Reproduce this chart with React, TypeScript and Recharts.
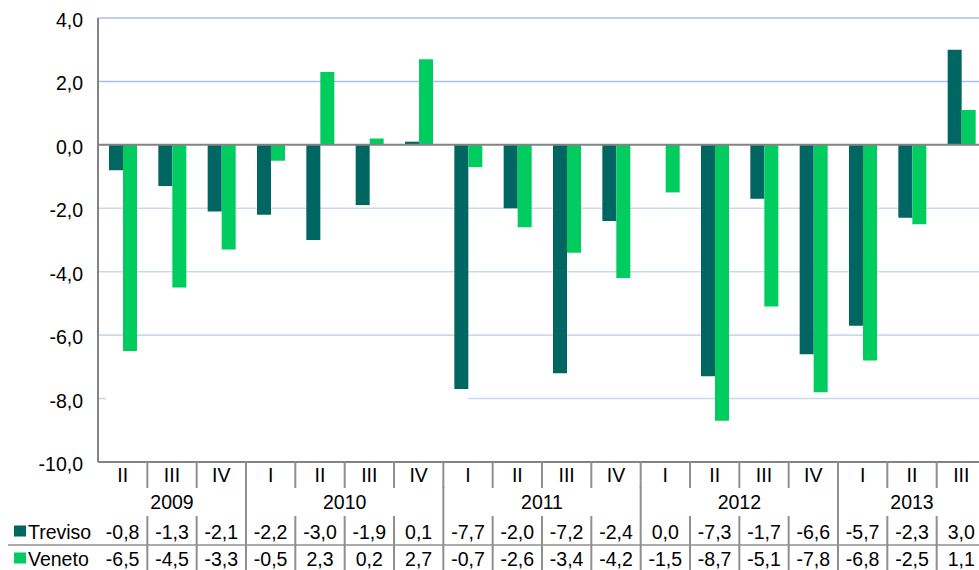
import React from 'react';
import { BarChart, Bar, XAxis, YAxis, CartesianGrid, ReferenceLine } from 'recharts';

const quarters = ['II', 'III', 'IV', 'I', 'II', 'III', 'IV', 'I', 'II', 'III', 'IV', 'I', 'II', 'III', 'IV', 'I', 'II', 'III'];
const years = [2009, 2009, 2009, 2010, 2010, 2010, 2010, 2011, 2011, 2011, 2011, 2012, 2012, 2012, 2012, 2013, 2013, 2013];
const treviso = [-0.8, -1.3, -2.1, -2.2, -3.0, -1.9, 0.1, -7.7, -2.0, -7.2, -2.4, 0.0, -7.3, -1.7, -6.6, -5.7, -2.3, 3.0];
const veneto = [-6.5, -4.5, -3.3, -0.5, 2.3, 0.2, 2.7, -0.7, -2.6, -3.4, -4.2, -1.5, -8.7, -5.1, -7.8, -6.8, -2.5, 1.1];
const yTicks = [-10, -8, -6, -4, -2, 0, 2, 4];
const seriesNames = ['Treviso', 'Veneto'];

const data = quarters.map((q, i) => ({
  key: `${years[i]}-${q}-${i}`,
  q,
  year: years[i],
  treviso: treviso[i],
  veneto: veneto[i],
}));

const FONT = 'Liberation Sans, Arial, sans-serif';
const FS = 19.5;
const CHART_W = 986;
const CHART_H = 570;
const Y_W = 98;
const TOP = 18;
const PLOT_W = CHART_W - Y_W;
const PLOT_H = CHART_H - TOP - 108;
const BAND = PLOT_W / quarters.length;
const HALF = BAND / 2;
const DIV = '#8f8f8f';
const C_TREV = '#006661';
const C_VEN = '#00CC5F';

const fmt = (v: number) => v.toFixed(1).replace('.', ',');

const idxOf = (props: any) => (props.index !== undefined ? props.index : props.payload?.index ?? 0);

const QuarterTick = (props: any) => {
  const { x, y } = props;
  const i = idxOf(props);
  return (
    <g>
      <text x={x} y={y + 13} textAnchor="middle" dominantBaseline="central" fontFamily={FONT} fontSize={FS} fill="#000">
        {data[i].q}
      </text>
      <line x1={x + HALF} x2={x + HALF} y1={y} y2={y + 26} stroke={DIV} strokeWidth={2} />
    </g>
  );
};

const YearTick = (props: any) => {
  const { x, y } = props;
  const i = idxOf(props);
  const yr = years[i];
  const first = years.indexOf(yr);
  const last = years.lastIndexOf(yr);
  if (i !== first) return <g />;
  const cx = x + ((first + last) / 2 - i) * BAND;
  return (
    <g>
      <text x={cx} y={y + 13} textAnchor="middle" dominantBaseline="central" fontFamily={FONT} fontSize={FS} fill="#000">
        {String(yr)}
      </text>
      {i > 0 && <line x1={x - HALF} x2={x - HALF} y1={y - 2} y2={y + 27} stroke={DIV} strokeWidth={2} />}
    </g>
  );
};

const makeValueTick = (values: number[], name: string, color: string, h: number, topLine: boolean) => (props: any) => {
  const { x, y } = props;
  const i = idxOf(props);
  const cy = y + h / 2 + 1;
  return (
    <g>
      {i === 0 && topLine && <line x1={8} x2={CHART_W} y1={y} y2={y} stroke={DIV} strokeWidth={1.5} />}
      {i === 0 && (
        <g>
          <rect x={14} y={cy - 6} width={12} height={11} fill={color} />
          <text x={28} y={cy} textAnchor="start" dominantBaseline="central" fontFamily={FONT} fontSize={FS} fill="#000">
            {name}
          </text>
        </g>
      )}
      <text x={x} y={cy} textAnchor="middle" dominantBaseline="central" fontFamily={FONT} fontSize={FS} fill="#000">
        {fmt(values[i])}
      </text>
      <line x1={x + HALF} x2={x + HALF} y1={y} y2={y + h} stroke={DIV} strokeWidth={2} />
    </g>
  );
};

const TrevisoTick = makeValueTick(treviso, seriesNames[0], C_TREV, 29, false);
const VenetoTick = makeValueTick(veneto, seriesNames[1], C_VEN, 25, true);

const YTick = (props: any) => {
  const { x, y, payload } = props;
  return (
    <text x={x} y={y + 2} textAnchor="end" dominantBaseline="central" fontFamily={FONT} fontSize={FS} fill="#000">
      {fmt(payload.value)}
    </text>
  );
};

const GridLine = (props: any) => {
  const { x1, x2, y1 } = props;
  const v = Math.round(4 - ((y1 - TOP) / PLOT_H) * 14);
  if (v === 0 || v === -10) return <g />;
  const color = v > 0 ? '#A9C0E8' : '#CCD8EF';
  if (v === -8) {
    return (
      <g>
        <line x1={x1} x2={x1 + 8} y1={y1} y2={y1} stroke={color} strokeWidth={1.6} />
        <line x1={x1 + 7.5 * BAND} x2={x2} y1={y1} y2={y1} stroke={color} strokeWidth={1.6} />
      </g>
    );
  }
  return <line x1={x1} x2={x2} y1={y1} y2={y1} stroke={color} strokeWidth={1.6} />;
};

export default function App() {
  return (
    <div style={{ position: 'absolute', left: 0, top: 0, width: 979, height: 570, overflow: 'hidden', background: '#fff' }}>
      <BarChart width={CHART_W} height={CHART_H} data={data} margin={{ top: TOP, right: 0, bottom: 0, left: 0 }} barGap={0}>
        <CartesianGrid xAxisId={0} vertical={false} horizontal={(p: any) => <GridLine key={p.key ?? p.index} {...p} />} />
        <XAxis xAxisId={0} dataKey="key" interval={0} height={27} tickSize={0} tickMargin={0} tickLine={false}
          axisLine={{ stroke: '#838383', strokeWidth: 2 }} tick={<QuarterTick />} />
        <XAxis xAxisId={1} dataKey="key" interval={0} height={27} tickSize={0} tickMargin={0} tickLine={false}
          axisLine={false} tick={<YearTick />} />
        <XAxis xAxisId={2} dataKey="key" interval={0} height={29} tickSize={0} tickMargin={0} tickLine={false}
          axisLine={false} tick={<TrevisoTick />} />
        <XAxis xAxisId={3} dataKey="key" interval={0} height={25} tickSize={0} tickMargin={0} tickLine={false}
          axisLine={false} tick={<VenetoTick />} />
        <YAxis width={Y_W} domain={[-10, 4]} ticks={yTicks} interval={0} tickSize={0} tickMargin={15} tickLine={false}
          axisLine={{ stroke: '#838383', strokeWidth: 2 }} tick={<YTick />} />
        <Bar xAxisId={0} dataKey="treviso" name={seriesNames[0]} fill={C_TREV} barSize={14} isAnimationActive={false} />
        <Bar xAxisId={0} dataKey="veneto" name={seriesNames[1]} fill={C_VEN} barSize={14} isAnimationActive={false} />
        <ReferenceLine xAxisId={0} y={0} stroke="#838383" strokeWidth={2} />
      </BarChart>
    </div>
  );
}
